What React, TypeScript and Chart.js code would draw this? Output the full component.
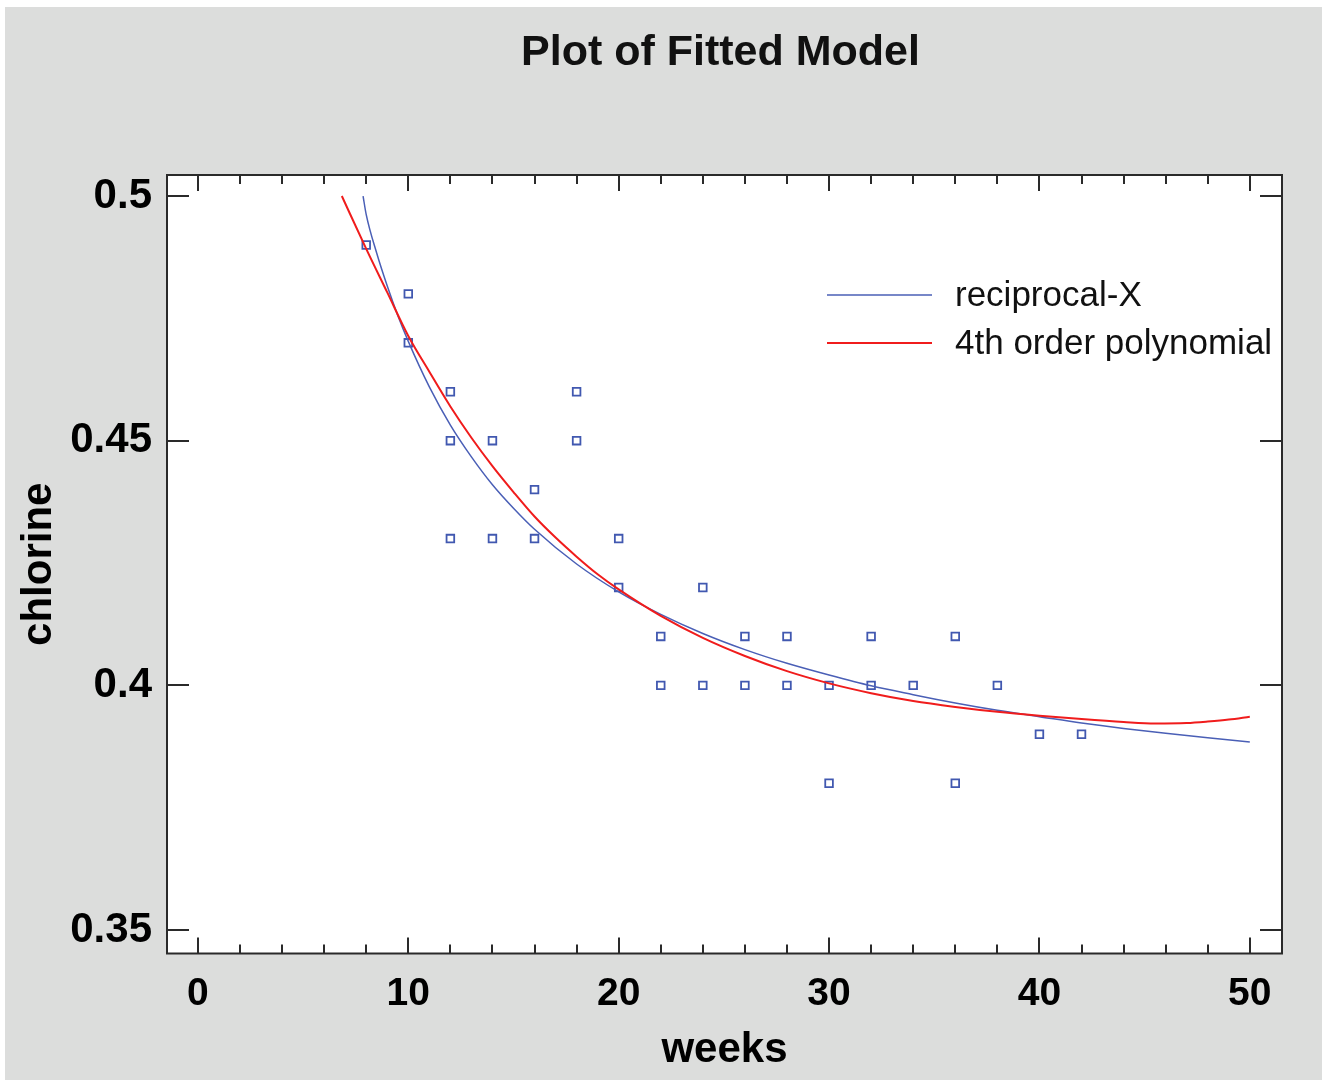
import React, { useEffect, useRef } from 'react';
import { Chart, registerables } from 'chart.js';

Chart.register(...registerables);

// observed data (weeks vs chlorine)
const obsWeeks = [8, 10, 10, 12, 12, 12, 14, 14, 16, 16, 18, 18, 20, 20, 22, 22, 24, 24, 26, 26, 28, 28, 30, 30, 32, 32, 34, 36, 36, 38, 40, 42];
const obsChlorine = [0.49, 0.48, 0.47, 0.46, 0.45, 0.43, 0.45, 0.43, 0.44, 0.43, 0.46, 0.45, 0.43, 0.42, 0.41, 0.40, 0.42, 0.40, 0.41, 0.40, 0.41, 0.40, 0.40, 0.38, 0.41, 0.40, 0.40, 0.41, 0.38, 0.40, 0.39, 0.39];

// reciprocal-X fitted curve
const recipX = [7.85, 8, 8.5, 9, 9.5, 10, 11, 12, 13, 14, 15, 16, 18, 20, 22, 24, 26, 28, 30, 32, 34, 36, 38, 40, 42, 44, 46, 48, 50];
const recipY = [0.5, 0.4962, 0.4883, 0.4816, 0.4756, 0.4703, 0.461, 0.4532, 0.4467, 0.441, 0.4362, 0.4319, 0.4248, 0.4191, 0.4145, 0.4106, 0.4073, 0.4045, 0.4021, 0.3999, 0.3981, 0.3964, 0.3949, 0.3936, 0.3923, 0.3912, 0.3902, 0.3893, 0.3884];

// 4th order polynomial fitted curve
const polyX = [6.84, 8, 9, 10, 11, 12, 13, 14, 15, 16, 17, 18, 19, 20, 22, 24, 26, 28, 30, 32, 34, 36, 38, 40, 42, 44, 45.5, 47, 48, 49, 50];
const polyY = [0.5, 0.4892, 0.4803, 0.4714, 0.4641, 0.457, 0.4506, 0.4448, 0.4395, 0.4345, 0.4302, 0.4263, 0.4227, 0.4196, 0.4142, 0.4097, 0.406, 0.4029, 0.4004, 0.3984, 0.3968, 0.3956, 0.3946, 0.3938, 0.3931, 0.3925, 0.3922, 0.3923, 0.3926, 0.393, 0.3936];

// axes
const xTickValues = [0, 10, 20, 30, 40, 50];
const xTickLabels = ['0', '10', '20', '30', '40', '50'];
const xMinorTicks = [2, 4, 6, 8, 12, 14, 16, 18, 22, 24, 26, 28, 32, 34, 36, 38, 42, 44, 46, 48];
const yTickValues = [0.35, 0.4, 0.45, 0.5];
const yTickLabels = ['0.35', '0.4', '0.45', '0.5'];

const seriesNames = ['reciprocal-X', '4th order polynomial'];
const titleText = 'Plot of Fitted Model';
const xTitle = 'weeks';
const yTitle = 'chlorine';

const FONT = '"Liberation Sans", Arial, sans-serif';
const BLUE = '#4158b0';
const LINE_BLUE = '#4a5fb6';
const RED = '#f01c1c';
const FRAME = '#2a2a2a';

const decorPlugin = {
  id: 'decor',
  beforeDraw(chart: any) {
    const { ctx, chartArea: a } = chart;
    ctx.save();
    ctx.fillStyle = '#ffffff';
    ctx.fillRect(a.left, a.top, a.right - a.left, a.bottom - a.top);
    ctx.restore();
  },
  afterDraw(chart: any) {
    const { ctx, chartArea: a, scales } = chart;
    const xs = scales.x;
    const ys = scales.y;
    ctx.save();
    // frame
    ctx.strokeStyle = FRAME;
    ctx.lineWidth = 2;
    ctx.strokeRect(a.left, a.top, a.right - a.left, a.bottom - a.top);
    // x ticks (inward, top and bottom)
    const drawX = (v: number, len: number) => {
      const px = Math.round(xs.getPixelForValue(v));
      ctx.beginPath();
      ctx.moveTo(px, a.bottom);
      ctx.lineTo(px, a.bottom - len);
      ctx.moveTo(px, a.top);
      ctx.lineTo(px, a.top + len);
      ctx.stroke();
    };
    xTickValues.forEach((v) => drawX(v, 16));
    xMinorTicks.forEach((v) => drawX(v, 9));
    // y ticks (inward, left and right)
    yTickValues.forEach((v) => {
      const py = Math.round(ys.getPixelForValue(v));
      ctx.beginPath();
      ctx.moveTo(a.left, py);
      ctx.lineTo(a.left + 22, py);
      ctx.moveTo(a.right, py);
      ctx.lineTo(a.right - 22, py);
      ctx.stroke();
    });
    // legend
    const lx0 = a.left + 660;
    const lx1 = a.left + 765;
    const tx = a.left + 788;
    const ly = [a.top + 120, a.top + 168];
    const cols = [LINE_BLUE, RED];
    const widths = [1.5, 2];
    ctx.font = `35px ${FONT}`;
    ctx.textBaseline = 'middle';
    ctx.textAlign = 'left';
    seriesNames.forEach((name, i) => {
      ctx.strokeStyle = cols[i];
      ctx.lineWidth = widths[i];
      ctx.beginPath();
      ctx.moveTo(lx0, ly[i]);
      ctx.lineTo(lx1, ly[i]);
      ctx.stroke();
      ctx.fillStyle = '#111111';
      ctx.fillText(name, tx, ly[i] + 1);
    });
    // title
    ctx.font = `bold 43px ${FONT}`;
    ctx.textAlign = 'center';
    ctx.textBaseline = 'alphabetic';
    ctx.fillStyle = '#111111';
    ctx.fillText(titleText, (a.left + a.right) / 2 - 4, 58);
    ctx.restore();
  },
};

export default function App() {
  const ref = useRef<HTMLCanvasElement | null>(null);

  useEffect(() => {
    if (!ref.current) return;
    const chart = new Chart(ref.current, {
      type: 'scatter',
      data: {
        datasets: [
          {
            label: 'observed',
            data: obsWeeks.map((w, i) => ({ x: w, y: obsChlorine[i] })),
            pointStyle: 'rect',
            pointRadius: 5.4,
            pointBorderWidth: 1.8,
            pointBorderColor: BLUE,
            pointBackgroundColor: 'rgba(0,0,0,0)',
            showLine: false,
            order: 3,
          },
          {
            label: seriesNames[0],
            data: recipX.map((w, i) => ({ x: w, y: recipY[i] })),
            showLine: true,
            borderColor: LINE_BLUE,
            borderWidth: 1.5,
            pointRadius: 0,
            cubicInterpolationMode: 'monotone',
            order: 2,
          },
          {
            label: seriesNames[1],
            data: polyX.map((w, i) => ({ x: w, y: polyY[i] })),
            showLine: true,
            borderColor: RED,
            borderWidth: 2,
            pointRadius: 0,
            cubicInterpolationMode: 'monotone',
            order: 1,
          },
        ],
      },
      options: {
        responsive: false,
        animation: false,
        devicePixelRatio: 1,
        layout: { padding: { top: 168, right: 40, left: 0, bottom: 0 } },
        plugins: {
          legend: { display: false },
          title: { display: false },
          tooltip: { enabled: false },
        },
        scales: {
          x: {
            type: 'linear',
            min: -1.47,
            max: 51.53,
            grid: { display: false },
            border: { display: false },
            afterBuildTicks: (s: any) => {
              s.ticks = xTickValues.map((v) => ({ value: v }));
            },
            afterFit: (s: any) => {
              s.height = 126.5;
            },
            ticks: {
              autoSkip: false,
              maxRotation: 0,
              padding: 9,
              color: '#000000',
              font: { family: FONT, size: 39, weight: 'bold' },
              callback: (v: any) => {
                const i = xTickValues.indexOf(v);
                return i >= 0 ? xTickLabels[i] : '';
              },
            },
            title: {
              display: true,
              text: xTitle,
              color: '#000000',
              font: { family: FONT, size: 42, weight: 'bold' },
              padding: { top: 0, bottom: 4 },
            },
          },
          y: {
            type: 'linear',
            min: 0.3452,
            max: 0.5043,
            grid: { display: false },
            border: { display: false },
            afterBuildTicks: (s: any) => {
              s.ticks = yTickValues.map((v) => ({ value: v }));
            },
            afterFit: (s: any) => {
              s.width = 162;
            },
            ticks: {
              autoSkip: false,
              padding: 7,
              color: '#000000',
              font: { family: FONT, size: 42, weight: 'bold' },
              callback: (v: any) => {
                const i = yTickValues.indexOf(v);
                return i >= 0 ? yTickLabels[i] : '';
              },
            },
            title: {
              display: true,
              text: yTitle,
              color: '#000000',
              font: { family: FONT, size: 42, weight: 'bold' },
              padding: { top: 9, bottom: 0 },
            },
          },
        },
      },
      plugins: [decorPlugin],
    } as any);
    return () => chart.destroy();
  }, []);

  return (
    <div
      style={{
        position: 'fixed',
        left: 0,
        top: 0,
        width: 1322,
        height: 1080,
        background: '#ffffff',
        overflow: 'hidden',
      }}
    >
      <canvas
        ref={ref}
        width={1317}
        height={1073}
        style={{
          position: 'absolute',
          left: 5,
          top: 7,
          width: 1317,
          height: 1073,
          background: '#dcdddc',
        }}
      />
    </div>
  );
}
